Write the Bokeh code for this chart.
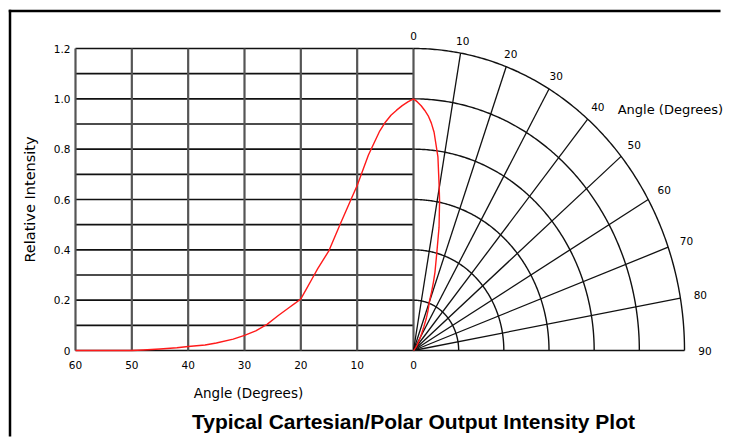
import numpy as np
from bokeh.plotting import figure
from bokeh.models import Range1d
from bokeh.core.properties import value
from bokeh.embed import file_html
from bokeh.resources import INLINE

# ---------------- data ----------------
angle_deg = [60, 50, 48, 45, 42, 40, 37, 35, 32, 30, 28, 26, 24, 22, 21, 20, 19, 18, 17,
             15, 13, 11, 10, 8, 6, 5, 4, 3, 2, 1, 0]
rel_intensity = [0.0, 0.0, 0.002, 0.006, 0.011, 0.016, 0.022, 0.030, 0.045, 0.060, 0.078,
                 0.104, 0.139, 0.172, 0.188, 0.205, 0.245, 0.285, 0.325, 0.397, 0.503,
                 0.605, 0.656, 0.777, 0.872, 0.907, 0.935, 0.955, 0.973, 0.988, 1.0]

cart_angle_ticks = [60, 50, 40, 30, 20, 10, 0]
cart_angle_labels = ["60", "50", "40", "30", "20", "10", "0"]
intensity_ticks = [0.0, 0.2, 0.4, 0.6, 0.8, 1.0, 1.2]
intensity_labels = ["0", "0.2", "0.4", "0.6", "0.8", "1.0", "1.2"]
intensity_grid = [0.0, 0.1, 0.2, 0.3, 0.4, 0.5, 0.6, 0.7, 0.8, 0.9, 1.0, 1.1, 1.2]
polar_angle_ticks = [0, 10, 20, 30, 40, 50, 60, 70, 80, 90]
polar_angle_labels = ["0", "10", "20", "30", "40", "50", "60", "70", "80", "90"]
polar_radii = [0.2, 0.4, 0.6, 0.8, 1.0, 1.2]
r_max = 1.2

title_text = "Typical Cartesian/Polar Output Intensity Plot"
x_label = "Angle (Degrees)"
y_label = "Relative Intensity"
polar_label = "Angle (Degrees)"

# ---------------- layout (pixels on canvas) ----------------
W, H = 723, 438
PX0, PY0 = 413.0, 350.0          # canvas position of angle 0 / intensity 0
SX = 338.0 / 60.0                # px per degree (cartesian)
SY = 302.0 / 1.2                 # px per unit intensity (vertical)
RX = 271.0 / 1.2                 # px per unit intensity (polar horizontal)
KX = RX / SX                     # polar horizontal factor in x-data units


def ux(px):
    return (px - PX0) / SX


def vy(py):
    return (PY0 - py) / SY


p = figure(width=W, height=H, output_backend="svg", toolbar_location=None,
           x_range=Range1d(ux(0), ux(W)), y_range=Range1d(vy(H), vy(0)),
           x_axis_location=None, y_axis_location=None, min_border=0,
           outline_line_color=None, background_fill_color="white",
           border_fill_color="white")
p.xgrid.visible = False
p.ygrid.visible = False

# page border (top and left visible)
p.segment(x0=[ux(9.5), ux(8.25)], y0=[vy(H - 2), vy(10.5)],
          x1=[ux(9.5), ux(W - 3)], y1=[vy(9.25), vy(10.5)],
          line_color="black", line_width=2.5)

# cartesian grid
p.multi_line([[-60, 0] for _ in intensity_grid], [[g, g] for g in intensity_grid],
             line_color="#111111", line_width=1.6)
p.multi_line([[-a, -a] for a in cart_angle_ticks], [[0, r_max] for _ in cart_angle_ticks],
             line_color="#555555", line_width=2.2)

# polar grid (arcs and radial lines)
th = np.radians(np.linspace(0, 90, 181))
p.multi_line([list(KX * r * np.sin(th)) for r in polar_radii],
             [list(r * np.cos(th)) for r in polar_radii],
             line_color="#111111", line_width=1.4)
rad = np.radians(polar_angle_ticks[1:])
p.multi_line([[0, KX * r_max * np.sin(t)] for t in rad],
             [[0, r_max * np.cos(t)] for t in rad],
             line_color="#111111", line_width=1.3)

# cartesian curve
ang = np.array(angle_deg, dtype=float)
inten = np.array(rel_intensity, dtype=float)
p.line(-ang, inten, line_color="#ff1a1a", line_width=1.4, line_join="round")

# polar curve
tr = np.radians(ang)
p.line(KX * inten * np.sin(tr), inten * np.cos(tr), line_color="#ff1a1a", line_width=1.4,
       line_join="round")

tick_font = value("DejaVu Sans")

# y tick labels
p.text(x=[-60] * len(intensity_ticks), y=intensity_ticks, text=intensity_labels,
       text_align="right", text_baseline="middle", x_offset=-5,
       text_font=tick_font, text_font_size="10.5px", text_color="black")
# x tick labels
p.text(x=[-a for a in cart_angle_ticks], y=[0] * len(cart_angle_ticks), text=cart_angle_labels,
       text_align="center", text_baseline="middle", y_offset=14,
       text_font=tick_font, text_font_size="10.5px", text_color="black")

# axis titles
p.text(x=[-30], y=[0], text=[x_label], text_align="center", text_baseline="middle",
       x_offset=4, y_offset=42, text_font=tick_font, text_font_size="13.5px",
       text_color="black")
p.text(x=[-60], y=[0.6], text=[y_label], text_align="center", text_baseline="middle",
       x_offset=-46, angle=np.pi / 2, text_font=tick_font, text_font_size="14.5px",
       text_color="black")

# polar angle labels
pa = np.radians(polar_angle_ticks)
d = 12.5 + 8.0 * np.sin(pa) ** 2
p.text(x=list(KX * r_max * np.sin(pa)), y=list(r_max * np.cos(pa)), text=polar_angle_labels,
       x_offset=list(d * np.sin(pa)), y_offset=list(-d * np.cos(pa)),
       text_align="center", text_baseline="middle",
       text_font=tick_font, text_font_size="10.5px", text_color="black")
a40 = np.radians(40)
p.text(x=[KX * r_max * np.sin(a40)], y=[r_max * np.cos(a40)], text=[polar_label],
       x_offset=30, y_offset=-10, text_align="left", text_baseline="middle",
       text_font=tick_font, text_font_size="13px", text_color="black")

# title
p.text(x=[0], y=[0], text=[title_text], text_align="center", text_baseline="middle",
       y_offset=71, text_font=value("Liberation Sans"), text_font_style="bold",
       text_font_size="21px", text_color="black")

open("out.html", "w").write(file_html(p, INLINE))
